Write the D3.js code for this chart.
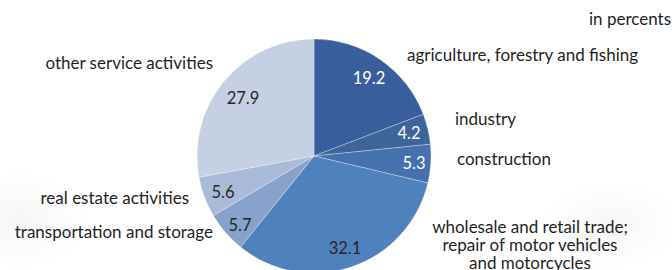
<!DOCTYPE html>
<html>
<head>
<meta charset="utf-8">
<script src="https://cdn.jsdelivr.net/npm/d3@7"></script>
<style>
  body { margin: 0; background: #fff; }
  svg { display: block; font-family: Lato, "Open Sans", sans-serif; }
</style>
</head>
<body>
<svg id="chart" width="672" height="270"></svg>
<script>
// sectors, clockwise from 12 o'clock
const categories = [
  "agriculture, forestry and fishing",
  "industry",
  "construction",
  "wholesale and retail trade;|repair of motor vehicles|and motorcycles",
  "transportation and storage",
  "real estate activities",
  "other service activities"
];
const values = [19.2, 4.2, 5.3, 32.1, 5.7, 5.6, 27.9];
const colors = ["#3a5d9d", "#3e6598", "#4571ae", "#4f81bd", "#89a2cb", "#aabbd9", "#c6d0e3"];
const valueColors = ["#fff", "#fff", "#fff", "#262626", "#262626", "#262626", "#262626"];

// where the labels sit (category name anchor + value label), by sector
const nameAnchor = ["start", "start", "start", "middle", "end", "end", "end"];
const namePos = [[407, 55], [455, 119], [457, 159], [530, 227], [213, 232], [189, 198], [213, 63]];
const valuePos = [[369, 78], [409, 133], [414, 163], [345, 248], [240, 225], [223, 192], [243, 98]];

const svg = d3.select("#chart");
const cx = 314, cy = 156, r = 117;

// faint grey smudges in the background
const defs = svg.append("defs");
const grad = defs.append("radialGradient").attr("id", "smudge");
grad.append("stop").attr("offset", "0%").attr("stop-color", "#000").attr("stop-opacity", 0.035);
grad.append("stop").attr("offset", "100%").attr("stop-color", "#000").attr("stop-opacity", 0);
svg.append("ellipse").attr("cx", 20).attr("cy", 220).attr("rx", 70).attr("ry", 50).attr("fill", "url(#smudge)");
svg.append("ellipse").attr("cx", 610).attr("cy", 225).attr("rx", 70).attr("ry", 45).attr("fill", "url(#smudge)");

const pie = d3.pie().sort(null).value(d => d)(values);
const arc = d3.arc().innerRadius(0).outerRadius(r);

const g = svg.append("g").attr("transform", `translate(${cx},${cy})`);
g.selectAll("path")
  .data(pie)
  .join("path")
  .attr("d", arc)
  .attr("fill", (d, i) => colors[i])
  .attr("stroke", "#fff")
  .attr("stroke-opacity", 0.6)
  .attr("stroke-width", 0.5);

// value labels
svg.selectAll(".val")
  .data(values)
  .join("text")
  .attr("class", "val")
  .attr("x", (d, i) => valuePos[i][0])
  .attr("y", (d, i) => valuePos[i][1])
  .attr("dy", "0.35em")
  .attr("text-anchor", "middle")
  .attr("font-size", 16.5)
  .attr("fill", (d, i) => valueColors[i])
  .text(d => d.toFixed(1));

// category labels
const names = svg.selectAll(".name")
  .data(categories)
  .join("text")
  .attr("class", "name")
  .attr("x", (d, i) => namePos[i][0])
  .attr("y", (d, i) => namePos[i][1])
  .attr("text-anchor", (d, i) => nameAnchor[i])
  .attr("font-size", 17)
  .attr("fill", "#1f1f1f");

names.each(function (d, i) {
  const lines = d.split("|");
  d3.select(this).selectAll("tspan")
    .data(lines)
    .join("tspan")
    .attr("x", namePos[i][0])
    .attr("y", (l, j) => namePos[i][1] + j * 18)
    .attr("dy", "0.35em")
    .text(l => l);
});

svg.append("text")
  .attr("x", 671)
  .attr("y", 19)
  .attr("dy", "0.35em")
  .attr("text-anchor", "end")
  .attr("font-size", 17)
  .attr("fill", "#1f1f1f")
  .text("in percents");
</script>
</body>
</html>
